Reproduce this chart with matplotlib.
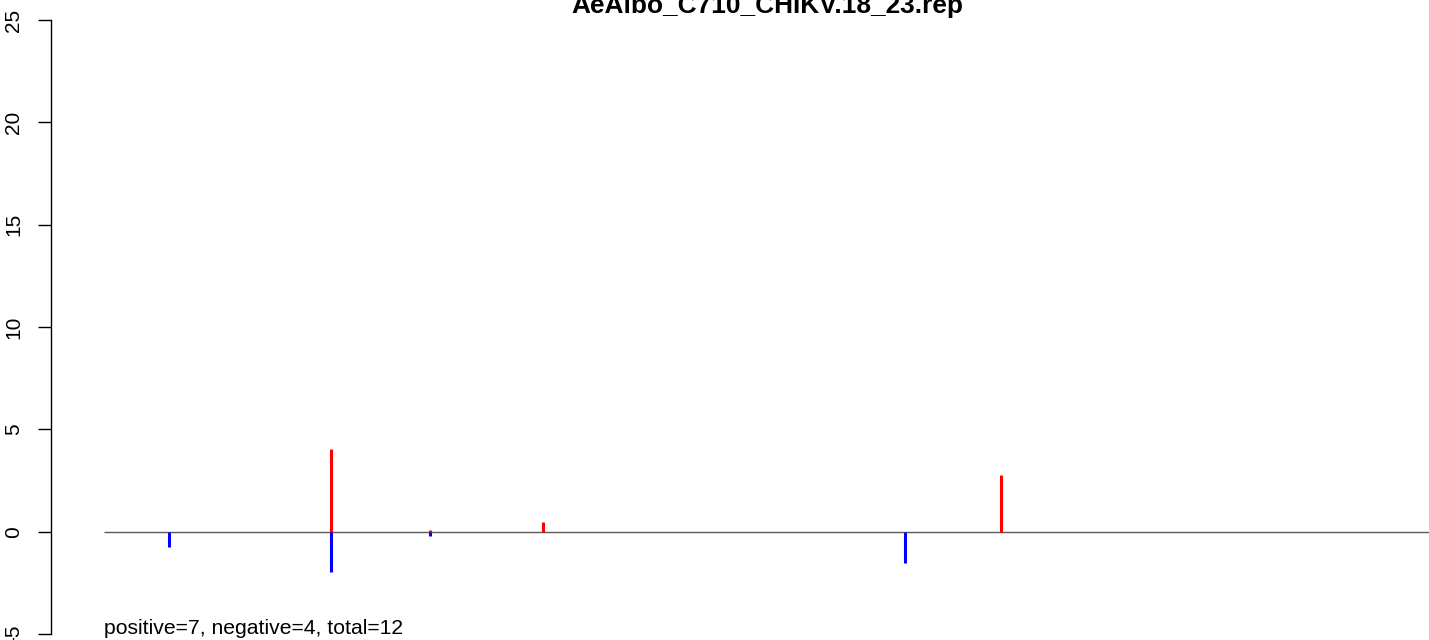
import numpy as np
import matplotlib
matplotlib.use('Agg')
import matplotlib.pyplot as plt

plt.rcParams['font.family'] = ['Liberation Sans', 'DejaVu Sans']

# read positions along the reference (arbitrary units, line starts at 0)
pos_positive = [171.5, 246.2, 331.5, 677.1]
val_positive = [4.04, 0.08, 0.47, 2.77]
pos_negative = [49.3, 171.5, 246.2, 604.7]
val_negative = [-0.73, -1.95, -0.22, -1.51]
ref_length = 1000
title = 'AeAlbo_C710_CHIKV.18_23.rep'
summary = 'positive=7, negative=4, total=12'
yticks = [-5, 0, 5, 10, 15, 20, 25]

W, H = 1429, 640
fig = plt.figure(figsize=(W / 100, H / 100), dpi=100)
ax_left = 50.7 / W
ax = fig.add_axes([ax_left, 0, 1 - ax_left, 1])

px_per_unit = 20.47
ax.set_ylim(-5 - 6 / px_per_unit, 25 + 20 / px_per_unit)
x_scale = 1.325
ax.set_xlim(-(104 - 50.7) / x_scale, ref_length)

ax.hlines(0, 0, ref_length * 1.2, color='#5a5a5a', lw=1.0, zorder=1)
ax.vlines(pos_positive, 0, val_positive, color='red', lw=2.2, zorder=2)
ax.vlines(pos_negative, 0, val_negative, color='blue', lw=2.2, zorder=2)

for s in ['top', 'right', 'bottom']:
    ax.spines[s].set_visible(False)
ax.spines['left'].set_bounds(-5, 25)
ax.spines['left'].set_linewidth(1.0)
ax.set_xticks([])
ax.set_yticks(yticks)
ax.set_yticklabels([str(t) for t in yticks], rotation=90, va='center', fontsize=15)
ax.tick_params(axis='y', length=9.6, width=1.0, pad=10)

ax.text(0, -5, summary, fontsize=15.2, ha='left', va='baseline')
fig.text(767 / W, 1 - 13 / H, title, fontsize=18.9, fontweight='bold', ha='center', va='baseline')

fig.savefig('out.png', dpi=100)
